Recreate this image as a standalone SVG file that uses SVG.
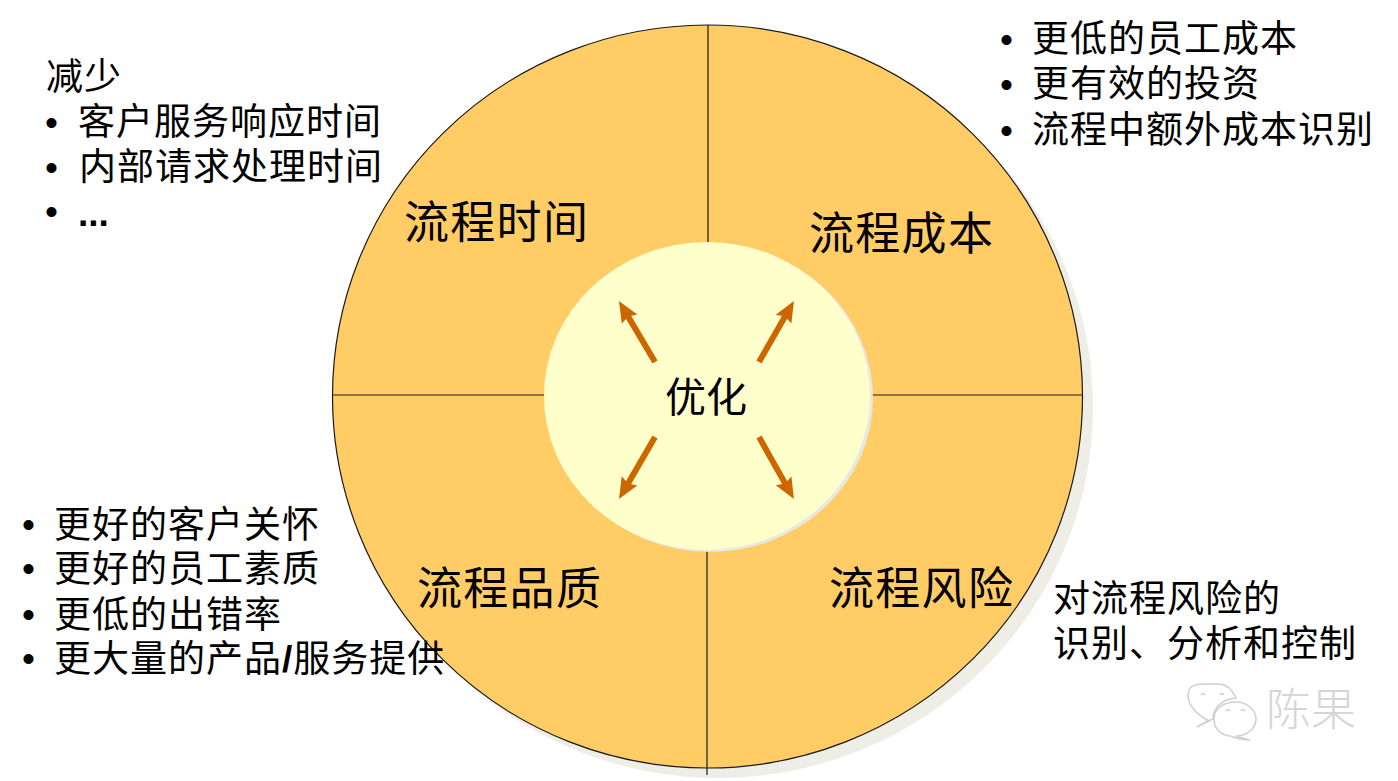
<svg xmlns="http://www.w3.org/2000/svg" width="1398" height="781" viewBox="0 0 1398 781">
<style>
text{font-family:"Noto Sans CJK SC","Liberation Sans",sans-serif;fill:#000}
.b{font-size:37px;letter-spacing:1px}
.h{font-size:45px;letter-spacing:1.3px}
.d{font-family:"Liberation Sans",sans-serif;font-size:37px}
.l{stroke:#1a1a1a;stroke-width:1.2;fill:none}
.a{stroke:#CC6600;stroke-width:6;fill:none;marker-end:url(#ah)}
.w{fill:none;stroke:#cfcfcf;stroke-width:1.5}
</style>
<defs>
<marker id="ah" markerUnits="userSpaceOnUse" markerWidth="26" markerHeight="22" viewBox="0 0 26 22" refX="13" refY="11" orient="auto">
<path d="M2 2L23 11L2 20L5 11Z" fill="#CC6600"/>
</marker>
</defs>
<rect width="1398" height="781" fill="#fff"/>
<g id="outer-disc">
<ellipse cx="718" cy="407" rx="375" ry="371" fill="#EEEEE6"/>
<ellipse cx="707.5" cy="396.5" rx="375" ry="371.5" fill="#FFCC66" stroke="#1a1a1a" stroke-width="1.2"/>
<path class="l" d="M708 25V243M707 550V775M332 395H545M872 395H1083"/>
</g>
<g id="inner-disc">
<ellipse cx="710" cy="398" rx="163" ry="154" fill="#E8E8E2"/>
<ellipse cx="707" cy="396" rx="163" ry="154" fill="#FFFFCC"/>
<text x="665" y="412" style="font-size:41px">优化</text>
</g>
<g id="connectors">
<path class="a" d="M655 362L624 309.6"/>
<path class="a" d="M759 362L789 309.6"/>
<path class="a" d="M655 437L624 490.4"/>
<path class="a" d="M759 437L789 490.4"/>
</g>
<g id="node-time"><text class="h" x="404" y="239">流程时间</text></g>
<g id="node-cost"><text class="h" x="809" y="250">流程成本</text></g>
<g id="node-quality"><text class="h" x="417" y="605">流程品质</text></g>
<g id="node-risk"><text class="h" x="829" y="605">流程风险</text></g>
<g id="note-time">
<text class="b" x="46" y="90">减少</text>
<text class="d" x="45" y="135">•</text><text class="b" x="78" y="135">客户服务响应时间</text>
<text class="d" x="45" y="180">•</text><text class="b" x="79" y="180">内部请求处理时间</text>
<text class="d" x="45" y="224">•</text><text class="d" x="78" y="226" style="font-weight:700">...</text>
</g>
<g id="note-cost">
<text class="d" x="1000" y="52">•</text><text class="b" x="1032" y="52">更低的员工成本</text>
<text class="d" x="1000" y="97">•</text><text class="b" x="1032" y="97">更有效的投资</text>
<text class="d" x="1000" y="143">•</text><text class="b" x="1032" y="143">流程中额外成本识别</text>
</g>
<g id="note-quality">
<text class="d" x="22" y="537">•</text><text class="b" x="54" y="538">更好的客户关怀</text>
<text class="d" x="22" y="581">•</text><text class="b" x="54" y="582">更好的员工素质</text>
<text class="d" x="22" y="627">•</text><text class="b" x="54" y="628">更低的出错率</text>
<text class="d" x="22" y="671">•</text><text class="b" x="54" y="672">更大量的产品<tspan style="font-family:'Liberation Sans',sans-serif;font-weight:700">/</tspan>服务提供</text>
</g>
<g id="note-risk">
<text class="b" x="1053" y="612">对流程风险的</text>
<text class="b" x="1053" y="657">识别、分析和控制</text>
</g>
<g id="watermark">
<path class="w" d="M1209 721C1196 714 1188 705 1188 695C1188 682 1201 684 1217 684C1228 684 1232 690 1236 698C1222 699 1213 708 1213 719C1208 721 1203 723 1197 727Z"/>
<path class="w" d="M1214 719C1214 708 1224 702 1236 702C1248 702 1256 711 1256 719C1256 729 1246 736 1236 736C1241 737 1247 740 1250 740C1240 740 1234 737 1230 736C1220 735 1214 728 1214 719Z"/>
<path class="w" d="M1201 695q2-3 4 0M1220 695q2-3 4 0M1226 711q2-3 4 0M1241 711q2-3 4 0"/>
<text x="1266" y="726" style="font-size:45px;fill:#d6d6d6;font-weight:300">陈果</text>
</g>
</svg>
